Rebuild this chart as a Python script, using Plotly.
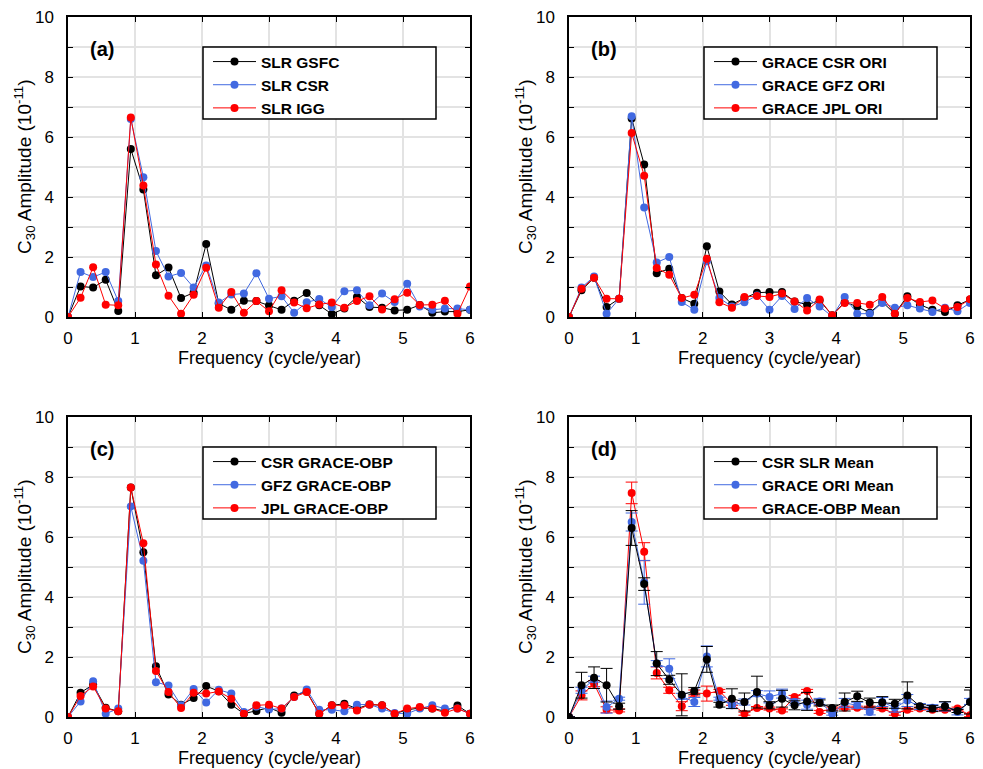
import plotly.graph_objects as go

freq = [0.0, 0.1875, 0.375, 0.5625, 0.75, 0.9375, 1.125, 1.3125, 1.5, 1.6875, 1.875,
        2.0625, 2.25, 2.4375, 2.625, 2.8125, 3.0, 3.1875, 3.375, 3.5625, 3.75, 3.9375,
        4.125, 4.3125, 4.5, 4.6875, 4.875, 5.0625, 5.25, 5.4375, 5.625, 5.8125, 6.0]

# Panel (a)
slr_gsfc = [0, 1.02, 0.98, 1.24, 0.2, 5.6, 4.25, 1.39, 1.65, 0.63, 0.81, 2.43, 0.45, 0.24, 0.54,
            0.53, 0.38, 0.24, 0.54, 0.8, 0.39, 0.1, 0.28, 0.67, 0.33, 0.31, 0.22, 0.24, 0.4,
            0.14, 0.18, 0.18, 0.24]
slr_csr = [0, 1.5, 1.33, 1.5, 0.53, 6.6, 4.66, 2.2, 1.35, 1.47, 0.98, 1.72, 0.48, 0.75, 0.78,
           1.46, 0.61, 0.69, 0.14, 0.49, 0.6, 0.33, 0.86, 0.89, 0.39, 0.78, 0.5, 1.11, 0.35,
           0.24, 0.28, 0.28, 0.24]
slr_igg = [0, 0.64, 1.66, 0.41, 0.39, 6.65, 4.38, 1.75, 0.71, 0.11, 0.74, 1.64, 0.31, 0.83, 0.14,
           0.53, 0.19, 0.89, 0.48, 0.29, 0.42, 0.48, 0.31, 0.53, 0.69, 0.25, 0.59, 0.81, 0.4,
           0.41, 0.54, 0.11, 1.02]

# Panel (b)
csr_ori = [0, 0.89, 1.31, 0.33, 0.61, 6.62, 5.08, 1.46, 1.61, 0.63, 0.44, 2.36, 0.85, 0.42, 0.63,
           0.81, 0.83, 0.83, 0.52, 0.41, 0.55, 0.06, 0.49, 0.35, 0.14, 0.5, 0.11, 0.69, 0.41,
           0.24, 0.17, 0.39, 0.58]
gfz_ori = [0, 0.98, 1.35, 0.11, 0.61, 6.69, 3.65, 1.82, 2.0, 0.5, 0.24, 1.86, 0.63, 0.35, 0.49,
           0.72, 0.24, 0.7, 0.27, 0.63, 0.35, 0.02, 0.67, 0.11, 0.11, 0.47, 0.31, 0.39, 0.28,
           0.17, 0.31, 0.19, 0.47]
jpl_ori = [0, 0.94, 1.31, 0.61, 0.61, 6.13, 4.71, 1.63, 1.41, 0.63, 0.74, 1.94, 0.49, 0.31, 0.67,
           0.7, 0.67, 0.78, 0.52, 0.22, 0.58, 0.06, 0.47, 0.47, 0.41, 0.67, 0.11, 0.63, 0.5,
           0.55, 0.28, 0.33, 0.59]

# Panel (c)
csr_obp = [0, 0.81, 1.08, 0.31, 0.19, 7.65, 5.49, 1.69, 0.75, 0.41, 0.63, 1.03, 0.86, 0.41, 0.11,
           0.2, 0.31, 0.14, 0.72, 0.85, 0.11, 0.39, 0.44, 0.28, 0.42, 0.39, 0.11, 0.24, 0.3,
           0.28, 0.2, 0.38, 0.11]
gfz_obp = [0, 0.52, 1.19, 0.11, 0.28, 7.02, 5.21, 1.16, 1.05, 0.39, 0.93, 0.48, 0.91, 0.78, 0.17,
           0.35, 0.25, 0.28, 0.67, 0.92, 0.24, 0.24, 0.19, 0.41, 0.42, 0.28, 0.13, 0.11, 0.28,
           0.39, 0.28, 0.28, 0.11]
jpl_obp = [0, 0.7, 1.02, 0.28, 0.19, 7.65, 5.79, 1.53, 0.83, 0.3, 0.81, 0.78, 0.85, 0.61, 0.11,
           0.39, 0.41, 0.28, 0.67, 0.83, 0.11, 0.39, 0.39, 0.22, 0.42, 0.39, 0.11, 0.28, 0.33,
           0.28, 0.14, 0.28, 0.11]

# Panel (d) means and error bars
slr_mean = [0, 1.06, 1.31, 1.06, 0.36, 6.3, 4.43, 1.78, 1.24, 0.74, 0.87, 1.92, 0.41, 0.61, 0.5,
            0.83, 0.39, 0.61, 0.39, 0.52, 0.47, 0.3, 0.5, 0.69, 0.48, 0.48, 0.44, 0.72, 0.36,
            0.28, 0.36, 0.2, 0.5]
slr_err = [0, 0.43, 0.36, 0.56, 0.1, 0.58, 0.21, 0.4, 0.15, 0.7, 0.11, 0.43, 0.08, 0.33, 0.3,
           0.53, 0.12, 0.28, 0.15, 0.3, 0.1, 0.1, 0.3, 0.17, 0.15, 0.2, 0.15, 0.45, 0.05,
           0.1, 0.15, 0.05, 0.4]
ori_mean = [0, 0.89, 1.26, 0.33, 0.61, 6.5, 4.49, 1.78, 1.61, 0.69, 0.5, 2.02, 0.61, 0.39, 0.5,
            0.78, 0.67, 0.78, 0.5, 0.41, 0.52, 0.11, 0.47, 0.39, 0.17, 0.5, 0.31, 0.55, 0.35,
            0.31, 0.35, 0.17, 0.52]
ori_err = [0, 0.1, 0.1, 0.2, 0.05, 0.3, 0.73, 0.1, 0.33, 0.1, 0.15, 0.35, 0.05, 0.1, 0.1,
           0.1, 0.2, 0.15, 0.1, 0.15, 0.1, 0.05, 0.15, 0.1, 0.1, 0.15, 0.15, 0.2, 0.1,
           0.1, 0.15, 0.1, 0.1]
obp_mean = [0, 0.72, 1.11, 0.24, 0.22, 7.47, 5.51, 1.47, 0.89, 0.36, 0.8, 0.78, 0.87, 0.44, 0.11,
            0.3, 0.28, 0.22, 0.67, 0.87, 0.17, 0.28, 0.31, 0.31, 0.31, 0.28, 0.11, 0.24, 0.28,
            0.24, 0.24, 0.28, 0.06]
obp_err = [0, 0.15, 0.1, 0.1, 0.05, 0.36, 0.3, 0.2, 0.1, 0.15, 0.1, 0.25, 0.05, 0.05, 0.05,
           0.05, 0.05, 0.05, 0.05, 0.05, 0.05, 0.05, 0.05, 0.05, 0.05, 0.05, 0.05, 0.05, 0.05,
           0.05, 0.05, 0.05, 0.05]

x_title = "Frequency (cycle/year)"
y_title = "C<sub>30</sub> Amplitude (10<sup>-11</sup>)"

BLACK = "#000000"
BLUE = "#4169E1"
RED = "#FF0000"
FONT = "Liberation Sans, Arial, Helvetica, sans-serif"

# The page body has an 8px default margin; the figure is sized to fit the window.
OFF = 8
W, H = 983 - OFF, 769 - OFF


def px(xp):
    return (xp - OFF) / W


def py(yp):
    return 1 - (yp - OFF) / H


# plot areas in window pixels (left, right, top, bottom)
areas = {
    1: (68, 470, 17, 317),
    2: (569, 970, 17, 317),
    3: (68, 470, 417, 717),
    4: (569, 970, 417, 717),
}

fig = go.Figure()

panels = [
    (1, "a", [("SLR GSFC", slr_gsfc, BLACK, None), ("SLR CSR", slr_csr, BLUE, None),
              ("SLR IGG", slr_igg, RED, None)]),
    (2, "b", [("GRACE CSR ORI", csr_ori, BLACK, None), ("GRACE GFZ ORI", gfz_ori, BLUE, None),
              ("GRACE JPL ORI", jpl_ori, RED, None)]),
    (3, "c", [("CSR GRACE-OBP", csr_obp, BLACK, None), ("GFZ GRACE-OBP", gfz_obp, BLUE, None),
              ("JPL GRACE-OBP", jpl_obp, RED, None)]),
    (4, "d", [("CSR SLR Mean", slr_mean, BLACK, slr_err), ("GRACE ORI Mean", ori_mean, BLUE, ori_err),
              ("GRACE-OBP Mean", obp_mean, RED, obp_err)]),
]

layout = {}
annotations = []
shapes = []
for idx, label, series in panels:
    l, r, t, b = areas[idx]
    sfx = "" if idx == 1 else str(idx)
    xname, yname = "x" + sfx, "y" + sfx
    legname = "legend" + sfx
    order = list(enumerate(series))
    if idx == 4:
        order = list(reversed(order))
    for rank, (name, vals, col, err) in order:
        tr = go.Scatter(
            x=freq, y=vals, name=name, mode="lines+markers",
            line=dict(color=col, width=1),
            marker=dict(color=col, size=8),
            xaxis=xname, yaxis=yname, legend=legname, legendrank=rank + 1,
        )
        if err is not None:
            tr.error_y = dict(type="data", array=err, visible=True, color=col,
                              thickness=1, width=6)
        fig.add_trace(tr)

    axis_common = dict(
        showline=True, linecolor="black", linewidth=1.5, mirror="allticks",
        ticks="inside", ticklen=5, tickcolor="black", tickwidth=1,
        showgrid=True, gridcolor="#e3e3e3", gridwidth=1.5, zeroline=False,
        tickfont=dict(family=FONT, size=17, color="black"), automargin=False,
        ticklabeloverflow="allow",
    )
    layout["xaxis" + sfx] = dict(
        axis_common, domain=[px(l), px(r)], range=[0, 6], dtick=1, tick0=0,
        anchor=yname, ticklabelstandoff=5,
    )
    layout["yaxis" + sfx] = dict(
        axis_common, domain=[py(b), py(t)], range=[0, 10], dtick=2, tick0=0,
        anchor=xname, ticklabelstandoff=9,
        minor=dict(dtick=1, ticks="inside", ticklen=5, tickcolor="black", showgrid=True,
                   gridcolor="#e3e3e3", gridwidth=1.5),
    )
    # axis titles
    annotations.append(dict(
        text=x_title, x=px((l + r) / 2), y=py(b + 41), xref="paper", yref="paper",
        xanchor="center", yanchor="middle", showarrow=False,
        font=dict(family=FONT, size=18, color="black"),
    ))
    annotations.append(dict(
        text=y_title, x=px(l - 44), y=py((t + b) / 2), xref="paper", yref="paper",
        xanchor="center", yanchor="middle", showarrow=False, textangle=-90,
        font=dict(family=FONT, size=19, color="black"),
    ))
    # legend box
    bx0, bx1, by0, by1 = l + 135, l + 368, t + 30, t + 102
    shapes.append(dict(type="rect", xref="paper", yref="paper",
                       x0=px(bx0), x1=px(bx1), y0=py(by1), y1=py(by0),
                       line=dict(color="black", width=1.5), fillcolor="white", layer="above"))
    layout[legname] = dict(
        x=px(bx0 + 5), y=py(by0 - 2), xanchor="left", yanchor="top",
        bgcolor="rgba(0,0,0,0)", borderwidth=0,
        font=dict(family=FONT, size=15.5, color="black", weight="bold"),
        itemwidth=43, tracegroupgap=0,
    )
    annotations.append(dict(
        text="<b>(%s)</b>" % label, x=px(l + 20), y=py(t + 32),
        xref="paper", yref="paper", xanchor="left", yanchor="middle", showarrow=False,
        font=dict(family=FONT, size=20, color="black"),
    ))

fig.update_layout(
    **layout,
    annotations=annotations,
    shapes=shapes,
    width=W, height=H,
    margin=dict(l=0, r=0, t=0, b=0),
    paper_bgcolor="white", plot_bgcolor="white",
    showlegend=True,
    font=dict(family=FONT, color="black"),
)

fig.write_html("out.html")
